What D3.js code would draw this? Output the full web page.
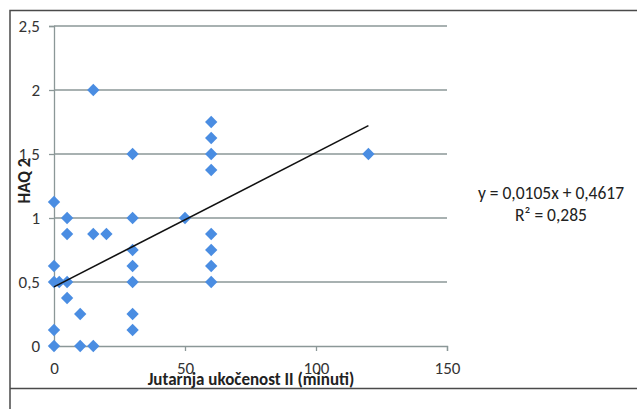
<!DOCTYPE html>
<html>
<head>
<meta charset="utf-8">
<script src="https://cdn.jsdelivr.net/npm/d3@7"></script>
<style>
  body { margin: 0; background: #fff; }
  text { font-family: Carlito, "Liberation Sans Narrow", "Open Sans", sans-serif; }
</style>
</head>
<body>
<div id="chart"></div>
<script>
// minutes of morning stiffness vs HAQ 2 score
var stiffness = [0, 10, 15, 0, 10, 30, 30, 5, 0, 2, 5, 30, 60, 0, 30, 30, 60, 60, 60, 5, 15, 20, 5, 30, 50, 0, 30, 60, 60, 60, 60, 15, 120];
var haq       = [0, 0, 0, 0.125, 0.25, 0.125, 0.25, 0.375, 0.5, 0.5, 0.5, 0.5, 0.5, 0.625, 0.625, 0.75, 0.625, 0.75, 0.875, 0.875, 0.875, 0.875, 1, 1, 1, 1.125, 1.5, 1.5, 1.375, 1.625, 1.75, 2, 1.5];

var xTicks = [0, 50, 100, 150];
var yTicks = [0, 0.5, 1, 1.5, 2, 2.5];

// linear trendline from Excel
var slope = 0.0105, intercept = 0.4617, r2 = 0.285;
var trendRange = [0, 120];

var W = 637, H = 409;
var margin = {top: 26, left: 54},
    width = 393,
    height = 320;

var svg = d3.select("#chart").append("svg")
    .attr("width", W)
    .attr("height", H);

// outer frame
svg.append("path")
    .attr("d", "M10,409 V10.5 H637 M10,388.5 H637")
    .attr("fill", "none")
    .attr("stroke", "#4a4a4a")
    .attr("stroke-width", 1.5);

var g = svg.append("g")
    .attr("transform", "translate(" + margin.left + "," + margin.top + ")");

var x = d3.scaleLinear().domain([0, 150]).range([0, width]);
var y = d3.scaleLinear().domain([0, 2.5]).range([height, 0]);

var fmt = function(d) { return String(d).replace(".", ","); };

// gridlines
g.append("g")
    .selectAll("line")
    .data(yTicks.filter(function(d) { return d > 0; }))
    .enter().append("line")
    .attr("x1", 0)
    .attr("x2", width)
    .attr("y1", function(d) { return y(d); })
    .attr("y2", function(d) { return y(d); })
    .attr("stroke", "#8b9797")
    .attr("stroke-width", 1.3);

// Y axis
var yAxis = g.append("g")
    .call(d3.axisLeft(y).tickValues(yTicks).tickSize(5).tickPadding(9).tickFormat(fmt));

// X axis
var xAxis = g.append("g")
    .attr("transform", "translate(0," + height + ")")
    .call(d3.axisBottom(x).tickValues(xTicks).tickSize(5).tickPadding(11).tickFormat(fmt));

[xAxis, yAxis].forEach(function(a) {
    a.select(".domain").attr("stroke", "#8b9797").attr("stroke-width", 1.3);
    a.selectAll(".tick line").attr("stroke", "#8b9797").attr("stroke-width", 1.3);
    a.selectAll(".tick text")
        .attr("fill", "#333")
        .style("font-size", "17px")
        .style("font-family", "Carlito, 'Liberation Sans Narrow', 'Open Sans', sans-serif");
});

// points
var points = stiffness.map(function(v, i) { return {x: v, y: haq[i]}; });
g.append("g")
    .selectAll("path")
    .data(points)
    .enter().append("path")
    .attr("d", d3.symbol().type(d3.symbolSquare).size(76))
    .attr("transform", function(d) { return "translate(" + x(d.x) + "," + y(d.y) + ") rotate(45)"; })
    .attr("fill", "#4a8de2");

// trendline
g.append("line")
    .attr("x1", x(trendRange[0]))
    .attr("y1", y(slope * trendRange[0] + intercept))
    .attr("x2", x(trendRange[1]))
    .attr("y2", y(slope * trendRange[1] + intercept))
    .attr("stroke", "#111")
    .attr("stroke-width", 1.6);

// axis titles
svg.append("text")
    .attr("x", 251)
    .attr("y", 385)
    .attr("text-anchor", "middle")
    .attr("font-weight", "bold")
    .attr("font-size", "17px")
    .attr("fill", "#222")
    .text("Jutarnja ukočenost II (minuti)");

svg.append("text")
    .attr("transform", "translate(30,181) rotate(-90)")
    .attr("text-anchor", "middle")
    .attr("font-weight", "bold")
    .attr("font-size", "17px")
    .attr("fill", "#222")
    .text("HAQ 2");

// trendline equation
var eq = svg.append("text")
    .attr("text-anchor", "middle")
    .attr("font-size", "17.5px")
    .attr("fill", "#222");
eq.append("tspan")
    .attr("x", 551).attr("y", 199)
    .text("y = " + fmt(slope) + "x + " + fmt(intercept));
eq.append("tspan")
    .attr("x", 551).attr("y", 221)
    .text("R² = " + fmt(r2));
</script>
</body>
</html>
